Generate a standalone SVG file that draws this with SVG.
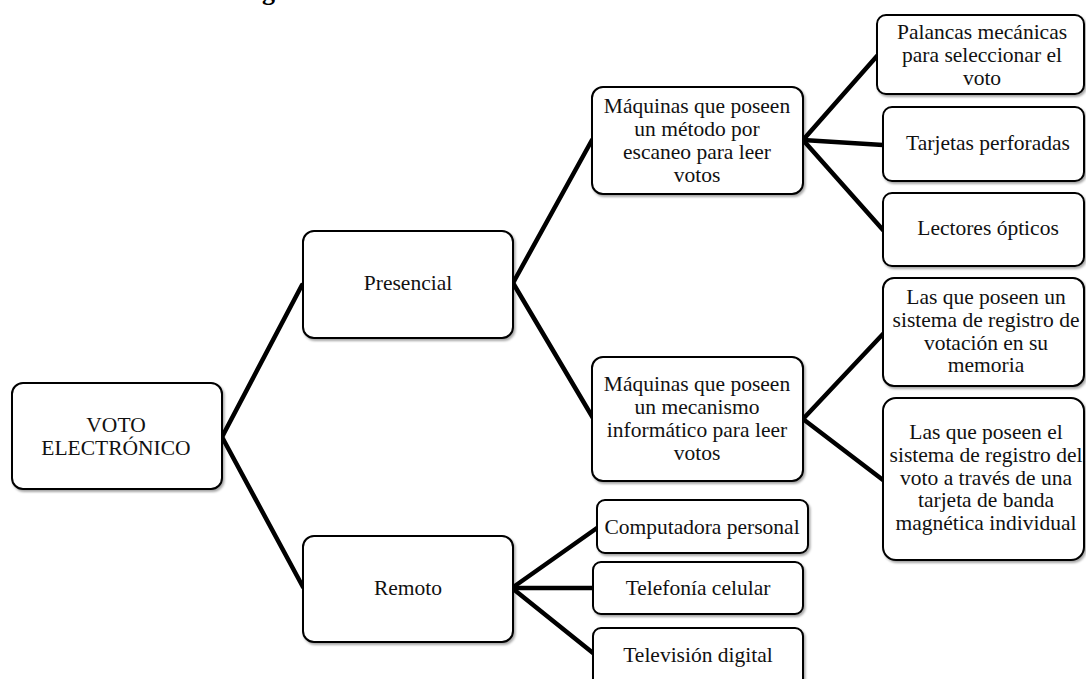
<svg xmlns="http://www.w3.org/2000/svg" width="1086" height="679" viewBox="0 0 1086 679">
<defs>
<filter id="sh" x="-5%" y="-5%" width="115%" height="120%">
<feDropShadow dx="1.5" dy="2" stdDeviation="1.2" flood-color="#000" flood-opacity="0.35"/>
</filter>
<style>
.box{fill:#fff;stroke:#000;stroke-width:2;filter:url(#sh)}
.t{font-family:"Liberation Serif","Times New Roman",serif;font-size:21.5px;fill:#111;text-anchor:middle}
.c{stroke:#000;stroke-width:4.5;fill:none;stroke-linecap:round}
.title{font-family:"Liberation Serif","Times New Roman",serif;font-size:26px;font-weight:bold;fill:#000}
</style>
</defs>
<rect width="1086" height="679" fill="#fff"/>
<text class="title" x="262" y="0">g</text>
<g id="connectors">
<line class="c" x1="222" y1="437" x2="302" y2="285"/>
<line class="c" x1="222" y1="437" x2="303" y2="587"/>
<line class="c" x1="513" y1="283" x2="592" y2="140"/>
<line class="c" x1="513" y1="283" x2="593" y2="418"/>
<line class="c" x1="803" y1="140" x2="877" y2="56"/>
<line class="c" x1="803" y1="140" x2="883" y2="145"/>
<line class="c" x1="803" y1="140" x2="883" y2="230"/>
<line class="c" x1="803" y1="419" x2="883" y2="334"/>
<line class="c" x1="803" y1="419" x2="883" y2="480"/>
<line class="c" x1="512" y1="588" x2="597" y2="528"/>
<line class="c" x1="512" y1="588" x2="593" y2="588"/>
<line class="c" x1="512" y1="588" x2="593" y2="653"/>
</g>
<g id="voto">
<rect class="box" x="12" y="383" width="210" height="106" rx="11"/>
<text class="t" x="116" y="432">VOTO</text>
<text class="t" x="116" y="455">ELECTRÓNICO</text>
</g>
<g id="presencial">
<rect class="box" x="303" y="231" width="210" height="107" rx="11"/>
<text class="t" x="408" y="290">Presencial</text>
</g>
<g id="remoto">
<rect class="box" x="303" y="536" width="210" height="106" rx="11"/>
<text class="t" x="408" y="595">Remoto</text>
</g>
<g id="maquinas-escaneo">
<rect class="box" x="592" y="87" width="211" height="107" rx="11"/>
<text class="t" x="697" y="113">Máquinas que poseen</text>
<text class="t" x="697" y="136">un método por</text>
<text class="t" x="697" y="159">escaneo para leer</text>
<text class="t" x="697" y="182">votos</text>
</g>
<g id="maquinas-informatico">
<rect class="box" x="592" y="357" width="211" height="124" rx="11"/>
<text class="t" x="697" y="391">Máquinas que poseen</text>
<text class="t" x="697" y="414">un mecanismo</text>
<text class="t" x="697" y="437">informático para leer</text>
<text class="t" x="697" y="460">votos</text>
</g>
<g id="palancas">
<rect class="box" x="877" y="15" width="207" height="79" rx="9"/>
<text class="t" x="982" y="39">Palancas mecánicas</text>
<text class="t" x="982" y="62">para seleccionar el</text>
<text class="t" x="982" y="85">voto</text>
</g>
<g id="tarjetas">
<rect class="box" x="883" y="107" width="201" height="74" rx="9"/>
<text class="t" x="988" y="150">Tarjetas perforadas</text>
</g>
<g id="lectores">
<rect class="box" x="883" y="193" width="201" height="73" rx="9"/>
<text class="t" x="988" y="235">Lectores ópticos</text>
</g>
<g id="registro-memoria">
<rect class="box" x="883" y="278" width="201" height="108" rx="11"/>
<text class="t" x="986" y="304">Las que poseen un</text>
<text class="t" x="986" y="327">sistema de registro de</text>
<text class="t" x="986" y="350">votación en su</text>
<text class="t" x="986" y="372">memoria</text>
</g>
<g id="registro-tarjeta">
<rect class="box" x="883" y="398" width="201" height="162" rx="13"/>
<text class="t" x="986" y="439">Las que poseen el</text>
<text class="t" x="986" y="462">sistema de registro del</text>
<text class="t" x="986" y="485">voto a través de una</text>
<text class="t" x="986" y="507">tarjeta de banda</text>
<text class="t" x="986" y="530">magnética individual</text>
</g>
<g id="computadora">
<rect class="box" x="597" y="500" width="211" height="53" rx="8"/>
<text class="t" x="702" y="534">Computadora personal</text>
</g>
<g id="telefonia">
<rect class="box" x="593" y="562" width="210" height="52" rx="8"/>
<text class="t" x="698" y="595">Telefonía celular</text>
</g>
<g id="television">
<rect class="box" x="593" y="628" width="210" height="62" rx="8"/>
<text class="t" x="698" y="662">Televisión digital</text>
</g>
</svg>
